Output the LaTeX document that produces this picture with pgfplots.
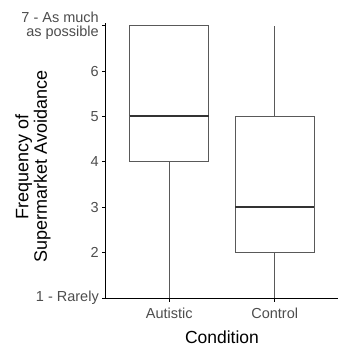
\documentclass[border=0pt]{standalone}
\usepackage{pgfplots}
\pgfplotsset{compat=1.18}
\usepgfplotslibrary{statistics}
\usepackage{fontspec}
\setmainfont{Liberation Sans}
\definecolor{boxc}{HTML}{595959}
\definecolor{medc}{HTML}{333333}
\definecolor{tickc}{HTML}{4D4D4D}
\begin{document}
\begin{tikzpicture}
\begin{axis}[
  name=ax,
  scale only axis, width=232pt, height=275pt,
  xmin=0.4, xmax=2.6, ymin=1, ymax=7.06,
  axis x line*=bottom, axis y line*=left,
  axis line style={black, line width=1pt},
  tick align=outside, major tick length=3.5pt,
  major tick style={black, line width=0.8pt},
  xtick={1,2}, xticklabels={Autistic,Control},
  ytick={1,2,3,4,5,6,7},
  yticklabels={1 - Rarely,2,3,4,5,6,{7 - As much\\as possible}},
  yticklabel style={align=right, text=tickc, font=\fontsize{14.5}{13.5}\selectfont, inner sep=3.5pt},
  xticklabel style={text=tickc, font=\fontsize{14.5}{14}\selectfont, yshift=-3pt},
  xlabel={Condition},
  xlabel style={font=\fontsize{17.5}{18}\selectfont, at={(axis description cs:0.5,-0.167)}, anchor=base},
  ylabel={Frequency of\\Supermarket Avoidance},
  ylabel style={font=\fontsize{18}{18.5}\selectfont, align=center, at={(axis description cs:-0.315,0.478)}, anchor=center, rotate=0},
  boxplot/draw direction=y,
  boxplot/every median/.style={draw=medc, line width=2pt},
  clip=false,
]
\addplot[boxplot prepared={lower whisker=1, lower quartile=4, median=5, upper quartile=7, upper whisker=7, draw position=1, box extend=0.75, whisker extend=0}, draw=boxc, line width=1.1pt, fill=white] coordinates {};
\addplot[boxplot prepared={lower whisker=1, lower quartile=2, median=3, upper quartile=5, upper whisker=7, draw position=2, box extend=0.75, whisker extend=0}, draw=boxc, line width=1.1pt, fill=white] coordinates {};
\end{axis}
\pgfresetboundingbox
\path (ax.south west) ++(-106pt,-51pt) rectangle ++(338pt,349pt);
\end{tikzpicture}
\end{document}
